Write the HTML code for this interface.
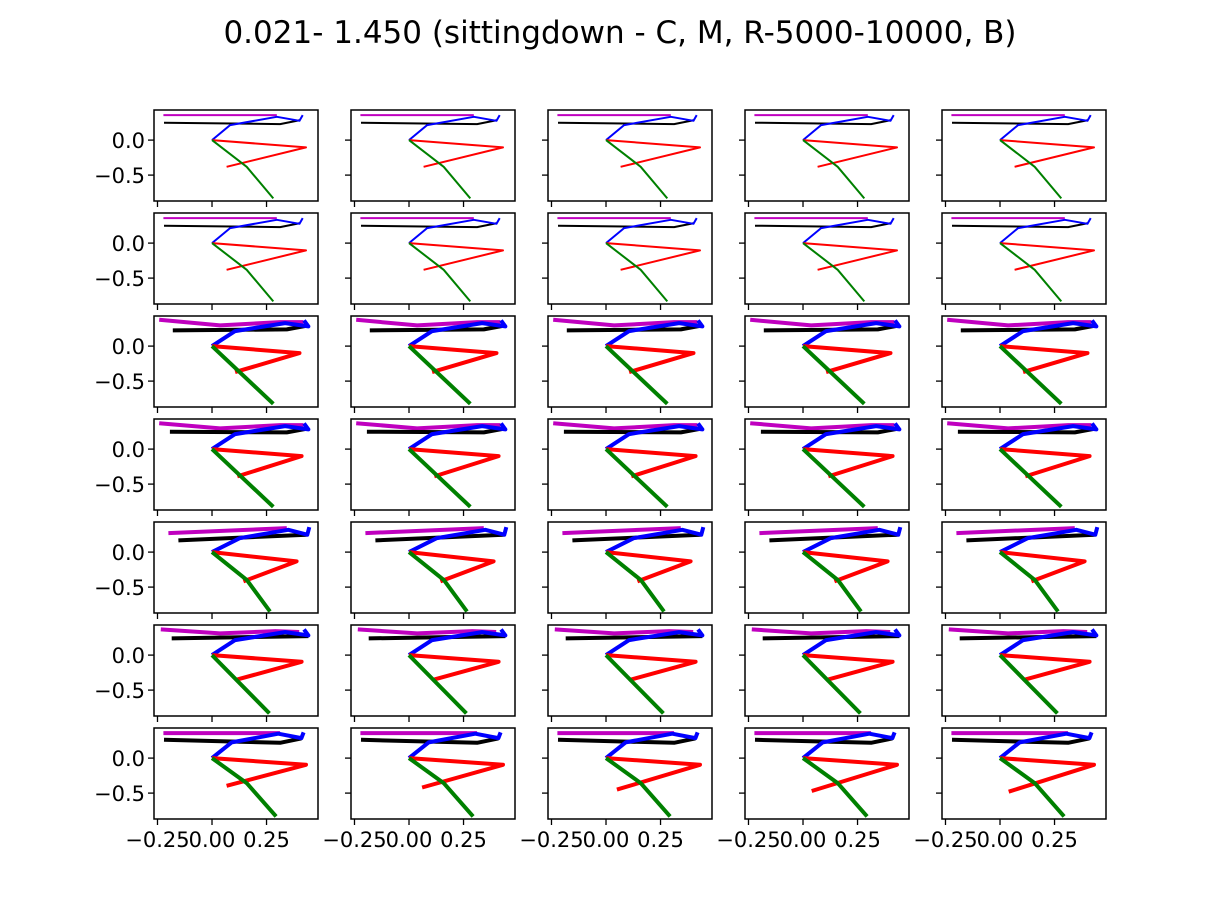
<!DOCTYPE html>
<html><head><meta charset="utf-8"><style>
body{margin:0;background:#fff;}
svg{display:block;font-family:"DejaVu Sans","Liberation Sans",sans-serif;}
</style></head><body>
<svg id="fig" width="1228" height="921" viewBox="0 0 1228 921">
<rect width="1228" height="921" fill="#fff"/>
<text x="620" y="43" font-size="31" text-anchor="middle">0.021- 1.450 (sittingdown - C, M, R-5000-10000, B)</text>
</svg>
<script>
const colLefts=[154,351,548,745,942];
const rowTops=[110,213,316,419,522,625,728];
const xTicks=[-0.25,0,0.25];
const xTickLabels=["\u22120.25","0.00","0.25"];
const yTicks=[0,-0.5];
const yTickLabels=["0.0","\u22120.5"];
const rowWidths=[2,2,4,4,4,4,4];
const magX=[[-.223,.297],[-.223,.297],[-.242,.037,.312,.419],[-.242,.037,.312,.419],[-.2,.343],[-.235,.037,.29,.4],[-.223,.312]];
const magY=[[.357,.357],[.357,.357],[.376,.295,.343,.343],[.37,.295,.343,.343],[.271,.343],[.367,.31,.343,.33],[.357,.357]];
const blkX=[[-.22,.312,.404],[-.22,.312,.404],[-.18,.343,.442],[-.193,.343,.442],[-.154,.434],[-.185,.442],[-.22,.312,.41]];
const blkY=[[.248,.229,.286],[.248,.229,.286],[.224,.238,.295],[.248,.238,.295],[.167,.248],[.238,.271],[.262,.219,.281]];
const bluX=[[0,.083,.297,.401,.416],[0,.083,.297,.401,.416],[0,.106,.335,.442,.422],[0,.106,.335,.442,.422],[0,.128,.35,.437,.446],[0,.106,.335,.442,.422],[0,.09,.304,.41,.42]];
const bluY=[[0,.214,.333,.276,.357],[0,.214,.333,.276,.357],[0,.214,.329,.281,.367],[0,.214,.329,.281,.367],[0,.2,.319,.248,.357],[0,.214,.329,.281,.367],[0,.224,.348,.286,.367]];
const redX=[[0,.431,.067],[0,.431,.067],[0,.401,.106],[0,.411,.116],[0,.388,.144],[0,.411,.106],[0,.431,.067]];
const redY=[[0,-.105,-.381],[0,-.105,-.381],[0,-.1,-.371],[0,-.1,-.39],[0,-.133,-.419],[0,-.095,-.357],[0,-.095,-.395]];
const grnX=[[0,.159,.281],[0,.159,.281],[0,.281],[0,.281],[0,.16,.266],[0,.263],[0,.159,.294]];
const grnY=[[0,-.381,-.833],[0,-.381,-.833],[0,-.824],[0,-.824],[0,-.4,-.848],[0,-.833],[0,-.357,-.833]];
const lastRowRedEndY=[-.395,-.42,-.45,-.47,-.48];
const lastRowRedEndX=[.067,.06,.05,.04,.04];
const W=164,H=91,XMIN=-0.266,XMAX=0.486,YMAX=0.43,YMIN=-0.87;
const svg=document.getElementById('fig');
const NS='http://www.w3.org/2000/svg';
function mk(t,a){const e=document.createElementNS(NS,t);for(const k in a)e.setAttribute(k,a[k]);return e;}
for(let r=0;r<rowTops.length;r++){for(let c=0;c<colLefts.length;c++){
 const L=colLefts[c],T=rowTops[r];
 const sx=v=>L+(v-XMIN)/(XMAX-XMIN)*W;
 const sy=v=>T+(YMAX-v)/(YMAX-YMIN)*H;
 const g=mk('g',{});
 
 
 svg.appendChild(g);
 const limbs=[[magX,magY,'#bf00bf','magenta-limb'],[blkX,blkY,'#000','black-limb'],[bluX,bluY,'#0000ff','blue-limb'],[redX,redY,'#ff0000','red-limb'],[grnX,grnY,'#008000','green-limb']];
 const clip=mk('clipPath',{id:'cp'+r+'_'+c});clip.appendChild(mk('rect',{x:L,y:T,width:W,height:H}));g.appendChild(clip);
 for(const [xs,ys,col,nm] of limbs){
  let X=xs[r].slice(),Y=ys[r].slice();
  if(r===6&&nm==='red-limb'){X[2]=lastRowRedEndX[c];Y[2]=lastRowRedEndY[c];}
  const pts=X.map((v,i)=>sx(v).toFixed(1)+','+sy(Y[i]).toFixed(1)).join(' ');
  const p=mk('polyline',{points:pts,fill:'none',stroke:col,'stroke-width':rowWidths[r],'stroke-linejoin':'round','clip-path':'url(#cp'+r+'_'+c+')'});
  
  
  g.appendChild(p);
 }
 const fr=mk('rect',{x:L,y:T,width:W,height:H,fill:'none',stroke:'#000','stroke-width':1.5});
 
 
 g.appendChild(fr);
 xTicks.forEach((v,i)=>{const x=sx(v);g.appendChild(mk('line',{x1:x,x2:x,y1:T+H,y2:T+H+6,stroke:'#000','stroke-width':1.3}));
  if(r===rowTops.length-1){const t=mk('text',{x:x,y:T+H+28,'font-size':21,'text-anchor':'middle'});t.textContent=xTickLabels[i];
   
   
   g.appendChild(t);}});
 yTicks.forEach((v,i)=>{const y=sy(v);g.appendChild(mk('line',{x1:L,x2:L-6,y1:y,y2:y,stroke:'#000','stroke-width':1.3}));
  if(c===0){const t=mk('text',{x:L-9,y:y+8,'font-size':21,'text-anchor':'end'});t.textContent=yTickLabels[i];
   
   
   g.appendChild(t);}});
}}
</script>
</body></html>
